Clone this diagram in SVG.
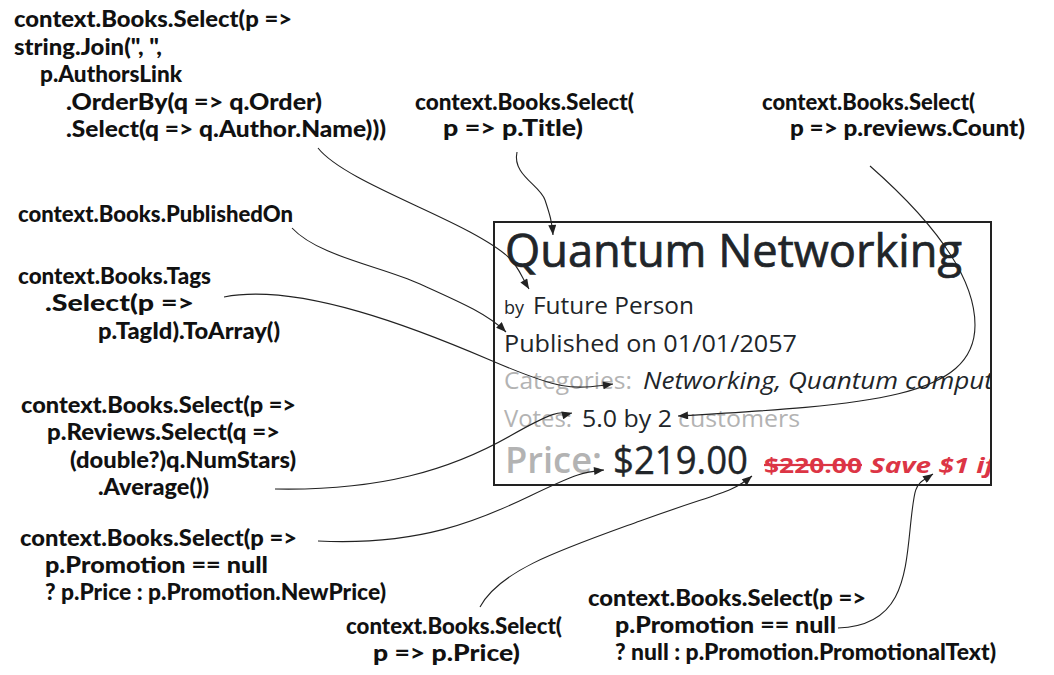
<svg xmlns="http://www.w3.org/2000/svg" width="1054" height="675" viewBox="0 0 1054 675">
<style>
.a{font-family:Lato,"Liberation Sans",sans-serif;font-weight:900;font-size:22px;fill:#111}
.b{font-family:"Open Sans","Noto Sans",sans-serif;fill:#212529}
.g{fill:#b3b3b3}
.r{fill:#dc3545;font-weight:bold;font-size:22px}
.c{fill:none;stroke:#222;stroke-width:1.1}
</style>
<defs>
<marker id="ah" viewBox="0 0 10 8" refX="10" refY="4" markerWidth="11" markerHeight="8" markerUnits="userSpaceOnUse" orient="auto"><path d="M0,0 L10,4 L0,8 z" fill="#222"/></marker>
<clipPath id="bc"><rect x="495" y="223" width="495" height="261"/></clipPath>
</defs>
<rect width="1054" height="675" fill="#fff"/>

<g id="book-card">
<rect x="494" y="222" width="497" height="263" fill="#fff" stroke="#222" stroke-width="2"/>
<g clip-path="url(#bc)">
<text class="b" x="505" y="267" font-size="46" stroke="#212529" stroke-width="0.7" textLength="457" lengthAdjust="spacingAndGlyphs">Quantum Networking</text>
<text class="b" x="504" y="314" font-size="18">by</text>
<text class="b" x="533" y="314" font-size="23" textLength="161" lengthAdjust="spacingAndGlyphs">Future Person</text>
<text class="b" x="504" y="352" font-size="23" textLength="293" lengthAdjust="spacingAndGlyphs">Published on 01/01/2057</text>
<text class="b g" x="504" y="389" font-size="23" textLength="128" lengthAdjust="spacingAndGlyphs">Categories:</text>
<text class="b" x="643" y="389" font-size="23" font-style="italic" textLength="350" lengthAdjust="spacingAndGlyphs">Networking, Quantum comput</text>
<text class="b g" x="504" y="427" font-size="23" textLength="68" lengthAdjust="spacingAndGlyphs">Votes:</text>
<text class="b" x="582" y="427" font-size="23" textLength="90" lengthAdjust="spacingAndGlyphs">5.0 by 2</text>
<text class="b g" x="678" y="427" font-size="23" textLength="122" lengthAdjust="spacingAndGlyphs">customers</text>
<text class="b g" x="505" y="473" font-size="36" font-weight="600" textLength="97" lengthAdjust="spacingAndGlyphs">Price:</text>
<text class="b" x="613" y="474" font-size="39" stroke="#212529" stroke-width="0.4" textLength="135" lengthAdjust="spacingAndGlyphs">$219.00</text>
<text class="b r" x="764" y="473" text-decoration="line-through" textLength="98" lengthAdjust="spacingAndGlyphs">$220.00</text>
<text class="b r" x="870" y="473" font-style="italic" textLength="125" lengthAdjust="spacingAndGlyphs">Save $1 if</text>
</g>
</g>

<g id="authors">
<text class="a" x="14" y="27" textLength="278" lengthAdjust="spacingAndGlyphs">context.Books.Select(p =&gt;</text>
<text class="a" x="14" y="55" textLength="148" lengthAdjust="spacingAndGlyphs">string.Join(", ",</text>
<text class="a" x="40" y="82" textLength="142" lengthAdjust="spacingAndGlyphs">p.AuthorsLink</text>
<text class="a" x="66" y="110" textLength="256" lengthAdjust="spacingAndGlyphs">.OrderBy(q =&gt; q.Order)</text>
<text class="a" x="66" y="137" textLength="320" lengthAdjust="spacingAndGlyphs">.Select(q =&gt; q.Author.Name)))</text>
</g>
<g id="title">
<text class="a" x="415" y="110" textLength="219" lengthAdjust="spacingAndGlyphs">context.Books.Select(</text>
<text class="a" x="443" y="136" textLength="140" lengthAdjust="spacingAndGlyphs">p =&gt; p.Title)</text>
</g>
<g id="reviews-count">
<text class="a" x="762" y="110" textLength="213" lengthAdjust="spacingAndGlyphs">context.Books.Select(</text>
<text class="a" x="790" y="136" textLength="235" lengthAdjust="spacingAndGlyphs">p =&gt; p.reviews.Count)</text>
</g>
<g id="published">
<text class="a" x="18" y="222" textLength="275" lengthAdjust="spacingAndGlyphs">context.Books.PublishedOn</text>
</g>
<g id="tags">
<text class="a" x="18" y="284" textLength="193" lengthAdjust="spacingAndGlyphs">context.Books.Tags</text>
<text class="a" x="45" y="311" textLength="149" lengthAdjust="spacingAndGlyphs">.Select(p =&gt;</text>
<text class="a" x="98" y="339" textLength="182" lengthAdjust="spacingAndGlyphs">p.TagId).ToArray()</text>
</g>
<g id="average">
<text class="a" x="21" y="413" textLength="275" lengthAdjust="spacingAndGlyphs">context.Books.Select(p =&gt;</text>
<text class="a" x="47" y="440" textLength="233" lengthAdjust="spacingAndGlyphs">p.Reviews.Select(q =&gt;</text>
<text class="a" x="70" y="468" textLength="226" lengthAdjust="spacingAndGlyphs">(double?)q.NumStars)</text>
<text class="a" x="98" y="495" textLength="111" lengthAdjust="spacingAndGlyphs">.Average())</text>
</g>
<g id="new-price">
<text class="a" x="20" y="546" textLength="277" lengthAdjust="spacingAndGlyphs">context.Books.Select(p =&gt;</text>
<text class="a" x="45" y="573" textLength="223" lengthAdjust="spacingAndGlyphs">p.Promotion == null</text>
<text class="a" x="45" y="600" textLength="341" lengthAdjust="spacingAndGlyphs">? p.Price : p.Promotion.NewPrice)</text>
</g>
<g id="price">
<text class="a" x="346" y="634" textLength="216" lengthAdjust="spacingAndGlyphs">context.Books.Select(</text>
<text class="a" x="373" y="661" textLength="147" lengthAdjust="spacingAndGlyphs">p =&gt; p.Price)</text>
</g>
<g id="promo-text">
<text class="a" x="588" y="606" textLength="278" lengthAdjust="spacingAndGlyphs">context.Books.Select(p =&gt;</text>
<text class="a" x="615" y="633" textLength="221" lengthAdjust="spacingAndGlyphs">p.Promotion == null</text>
<text class="a" x="615" y="660" textLength="381" lengthAdjust="spacingAndGlyphs">? null : p.Promotion.PromotionalText)</text>
</g>

<g id="connectors">
<path class="c" marker-end="url(#ah)" d="M318,148 C340,176 420,205 470,232 S515,266 529,289"/>
<path class="c" marker-end="url(#ah)" d="M517,152 C512,175 540,185 545,200 S552,222 553,235"/>
<path class="c" marker-end="url(#ah)" d="M292,228 C318,256 380,266 420,284 S488,314 506,332"/>
<path class="c" marker-end="url(#ah)" d="M224,297 C300,282 420,330 490,360 S570,390 613,384"/>
<path class="c" marker-end="url(#ah)" d="M870,166 C920,210 975,270 975,325 C975,398 870,405 678,416"/>
<path class="c" marker-end="url(#ah)" d="M275,489 C380,491 450,470 510,436 S560,416 572,413"/>
<path class="c" marker-end="url(#ah)" d="M318,541 C420,546 480,520 530,496 S585,472 604,470"/>
<path class="c" marker-end="url(#ah)" d="M480,607 C500,570 560,550 640,521 S730,494 752,476"/>
<path class="c" marker-end="url(#ah)" d="M838,628 C900,626 905,580 910,530 S915,486 933,474"/>
</g>
</svg>
